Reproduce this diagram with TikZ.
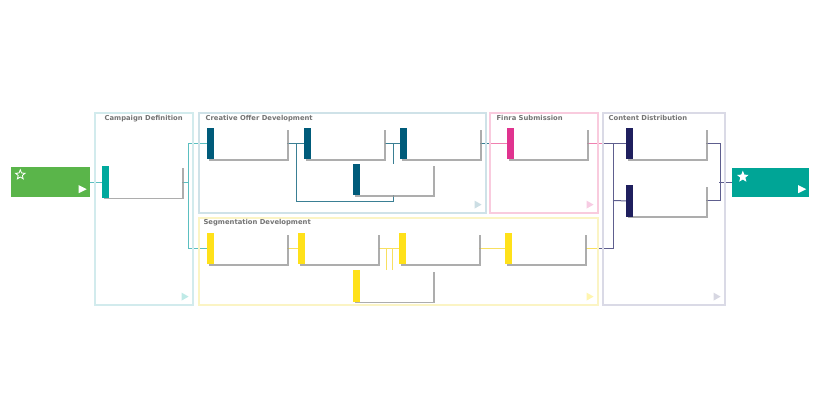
\documentclass[tikz,border=0pt]{standalone}
\usepackage{fontspec}
\setmainfont{DejaVu Sans}
\usetikzlibrary{positioning,shadows,shapes.geometric,backgrounds}

\definecolor{startgreen}{HTML}{5AB54A}
\definecolor{endteal}{HTML}{00A596}
\definecolor{cdbar}{HTML}{00A99D}
\definecolor{cobar}{HTML}{005B7A}
\definecolor{fnbar}{HTML}{E0338F}
\definecolor{sgbar}{HTML}{FFE11A}
\definecolor{dsbar}{HTML}{1F1F5E}
\definecolor{cdlane}{HTML}{D2EBED}
\definecolor{colane}{HTML}{CFE2E8}
\definecolor{fnlane}{HTML}{F9CBDE}
\definecolor{sglane}{HTML}{FBF4C4}
\definecolor{dslane}{HTML}{DADAE6}
\definecolor{cdline}{HTML}{5BBFC0}
\definecolor{coline}{HTML}{3A7F94}
\definecolor{fnline}{HTML}{F080B0}
\definecolor{sgline}{HTML}{F8E060}
\definecolor{dsline}{HTML}{5E5E8E}

\begin{document}
\begin{tikzpicture}[
                    x=1pt, y=-1pt,
                    lane/.style={
                        rectangle,
                        draw=#1,
                        line width=1.2pt,
                        inner sep=0pt
                    },
                    lanetitle/.style={
                        anchor=west,
                        inner sep=0pt,
                        font=\bfseries\fontsize{6.8}{7}\selectfont,
                        text=black!55
                    },
                    task/.style={
                        rectangle,
                        fill=white,
                        minimum width=80pt,
                        minimum height=31pt,
                        inner sep=0pt,
                        drop shadow={shadow xshift=1.8pt, shadow yshift=-1.8pt, fill=black!40, opacity=.8}
                    },
                    event/.style={
                        rectangle,
                        fill=#1,
                        minimum width=79pt,
                        minimum height=30pt,
                        inner sep=0pt
                    },
                    mark star/.style={
                        star, star points=5, star point ratio=2.3,
                        minimum size=10pt, inner sep=0pt,
                        draw=white, line width=.8pt
                    },
                    link/.style={line width=1pt, draw=#1}
                ]
                \useasboundingbox (0,0) rectangle (820,420);

                % swim lanes
                \node (CDlane) [lane=cdlane, minimum width=98pt, minimum height=192pt] at (144,209) {};
                \node (COlane) [lane=colane, minimum width=287pt, minimum height=100pt] at (342.5,163) {};
                \node (FNlane) [lane=fnlane, minimum width=108pt, minimum height=100pt] at (544,163) {};
                \node (SGlane) [lane=sglane, minimum width=399pt, minimum height=87pt] at (398.5,261.5) {};
                \node (DSlane) [lane=dslane, minimum width=122pt, minimum height=192pt] at (664,209) {};

                \node [lanetitle] at ([xshift=10pt, yshift=-6pt]CDlane.north west) {Campaign Definition};
                \node [lanetitle] at ([xshift=7pt, yshift=-6pt]COlane.north west) {Creative Offer Development};
                \node [lanetitle] at ([xshift=7pt, yshift=-6pt]FNlane.north west) {Finra Submission};
                \node [lanetitle] at ([xshift=5pt, yshift=-5pt]SGlane.north west) {Segmentation Development};
                \node [lanetitle] at ([xshift=6pt, yshift=-6pt]DSlane.north west) {Content Distribution};

                \foreach \l/\c in {CDlane/cdbar!25, COlane/cobar!20, FNlane/fnbar!25, SGlane/sgbar!35, DSlane/dsbar!18}
                    \fill [\c] ([shift={(-12pt,5pt)}]\l.south east) -- ++(0,-8) -- ++(7,4) -- cycle;

                % start and end events
                \node (start) [event=startgreen] at (50,182) {};
                \node (finish) [event=endteal, minimum width=77pt, minimum height=29pt] at (770.5,182.5) {};
                \node (startstar) [mark star] at ([shift={(10pt,-8pt)}]start.north west) {};
                \node (finishstar) [mark star, fill=white] at ([shift={(11pt,-9pt)}]finish.north west) {};
                \fill [white] ([shift={(-11pt,4pt)}]start.south east) -- ++(0,-8) -- ++(8,4) -- cycle;
                \fill [white] ([shift={(-11pt,4pt)}]finish.south east) -- ++(0,-8) -- ++(8,4) -- cycle;

                % tasks
                \node (CD1) [task] at (142,182) {};
                \node (CO1) [task] at (247,143.5) {};
                \node (CO2) [task, right=17pt of CO1] {};
                \node (CO3) [task, right=15pt of CO2] {};
                \node (CO4) [task] at (393,179.5) {};
                \node (FN1) [task, right=27pt of CO3] {};
                \node (SG1) [task] at (247,248.5) {};
                \node (SG2) [task, right=11pt of SG1] {};
                \node (SG3) [task] at (439,248.5) {};
                \node (SG4) [task, right=26pt of SG3] {};
                \node (SG5) [task] at (393,286) {};
                \node (DS1) [task] at (666,143.5) {};
                \node (DS2) [task, below=26pt of DS1] {};

                \foreach \t/\c in {CD1/cdbar, CO1/cobar, CO2/cobar, CO3/cobar, CO4/cobar, FN1/fnbar,
                                   SG1/sgbar, SG2/sgbar, SG3/sgbar, SG4/sgbar, SG5/sgbar, DS1/dsbar, DS2/dsbar}
                    \fill [\c] (\t.north west) rectangle ([xshift=7pt]\t.south west);

                % connectors
                \begin{scope}[on background layer]
                \draw [link=cdline] (start) -- (CD1);
                \draw [link=cdline] (CD1.east) -- ++(6,0) |- (CO1.west);
                \draw [link=cdline] (CD1.east) -- ++(6,0) |- (SG1.west);

                \draw [link=coline] (CO1) -- (CO2);
                \draw [link=coline] (CO2) -- (CO3);
                \draw [link=coline] (CO1.east) -- ++(9,0) |- (393,201) -- (CO4.south);
                \draw [link=coline] (CO4.north) |- (CO3.west);
                \draw [link=coline] (CO3.east) -- (490,143.5);
                \draw [link=fnline] (490,143.5) -- (FN1.west);

                \draw [link=sgline] (SG1) -- (SG2);
                \draw [link=sgline] (SG2) -- (SG3);
                \draw [link=sgline] (386,248.5) -- ([xshift=-7pt]SG5.north);
                \draw [link=sgline] (392,248.5) -- ([xshift=-1pt]SG5.north);
                \draw [link=sgline] (SG3) -- (SG4);
                \draw [link=sgline] (SG4.east) -- (598,248.5);
                \draw [link=fnline] (FN1.east) -- (603,143.5);

                \draw [link=dsline] (603,143.5) -- (DS1.west);
                \draw [link=dsline] (598,248.5) -| (613,143.5);
                \draw [link=dsline] (613,200.5) -- (DS2.west);
                \draw [link=dsline] (DS1.east) -- ++(14,0) |- (DS2.east);
                \draw [link=dsline] (719,182.5) -- (finish.west);
                \end{scope}
            \end{tikzpicture}
\end{document}
